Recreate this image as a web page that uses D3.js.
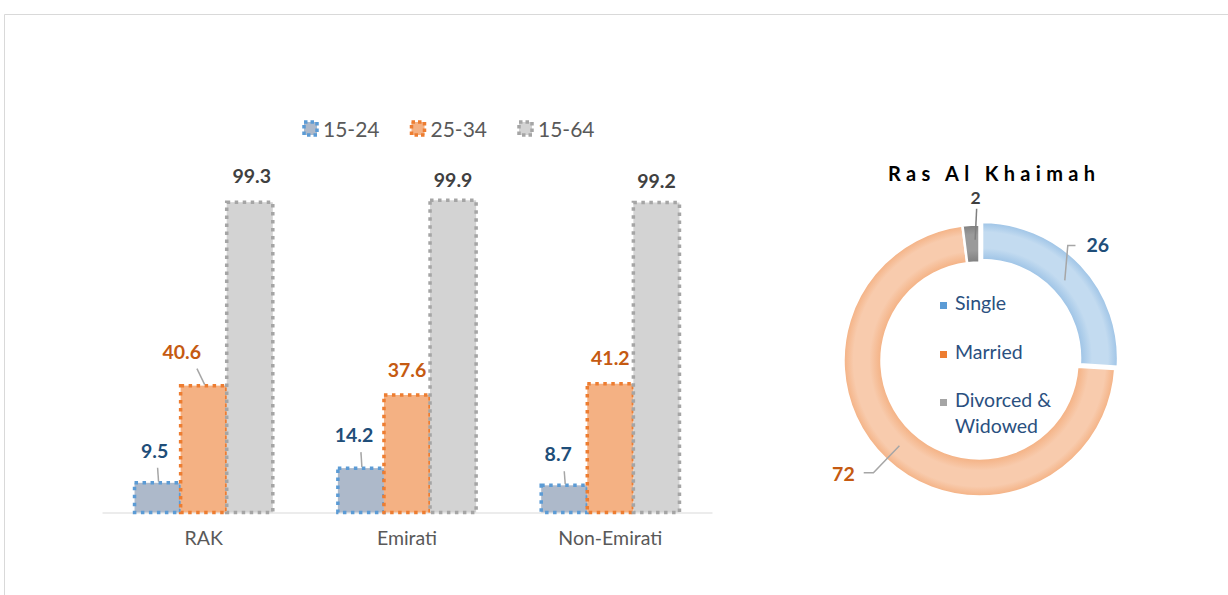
<!DOCTYPE html>
<html>
<head>
<meta charset="utf-8">
<script src="https://cdn.jsdelivr.net/npm/d3@7"></script>
<style>
  html, body { margin: 0; padding: 0; background: #fff; }
  svg { display: block; font-family: Lato, "Open Sans", sans-serif; }
</style>
</head>
<body>
<div id="chart"></div>
<script>
// data
const categories = ["RAK", "Emirati", "Non-Emirati"];
const ageGroups = ["15-24", "25-34", "15-64"];
const rate1524 = [9.5, 14.2, 8.7];
const rate2534 = [40.6, 37.6, 41.2];
const rate1564 = [99.3, 99.9, 99.2];

const donutTitle = "Ras Al Khaimah";
const maritalLabels = ["Single", "Married", "Divorced & Widowed"];
const maritalValues = [26, 72, 2];

const W = 1228, H = 595;
const svg = d3.select("#chart").append("svg")
    .attr("width", W)
    .attr("height", H);

// outer frame
svg.append("path")
    .attr("d", `M4.5,${H} V14.5 H${W}`)
    .attr("fill", "none")
    .attr("stroke", "#d9d9d9")
    .attr("stroke-width", 1);

// ---------- bar chart ----------
const seriesValues = [rate1524, rate2534, rate1564];
const barFill = ["#adb9ca", "#f4b183", "#d3d3d3"];
const barStroke = ["#5b9bd5", "#ed7d31", "#a5a5a5"];
const labelColor = ["#1f4e79", "#c55a11", "#404040"];

const x0 = d3.scaleBand().domain(categories).range([102, 712])
    .paddingInner(0.32).paddingOuter(0.16);
const x1 = d3.scaleBand().domain(ageGroups).range([0, x0.bandwidth()]);
const y = d3.scaleLinear().domain([0, 100]).range([512.5, 200]);

// label nudges [dx, dy from bar top, leader?] per series / category
const labelNudge = [
    [[-3, -25, true], [-7, -26, true], [-6, -24, true]],
    [[-22, -27, true], [0, -18, false], [0, -19, false]],
    [[2, -19, false], [0, -13, false], [0, -15, false]]
];

const axis = svg.append("g")
    .attr("transform", `translate(0,${y(0)})`)
    .call(d3.axisBottom(x0).tickSize(0).tickPadding(19));
axis.select(".domain").attr("stroke", "#d9d9d9").attr("stroke-width", 1.2);
axis.selectAll("text")
    .attr("font-family", "Lato")
    .attr("font-size", 19.5)
    .attr("fill", "#595959");

const barRows = [];
categories.forEach((c, ci) => {
    ageGroups.forEach((a, si) => {
        barRows.push({ cat: c, age: a, si: si, ci: ci, v: seriesValues[si][ci] });
    });
});

svg.append("g")
    .selectAll("rect")
    .data(barRows)
    .join("rect")
    .attr("x", d => x0(d.cat) + x1(d.age))
    .attr("y", d => y(d.v))
    .attr("width", x1.bandwidth())
    .attr("height", d => y(0) - y(d.v))
    .attr("fill", d => barFill[d.si])
    .attr("stroke", d => barStroke[d.si])
    .attr("stroke-width", 3.5)
    .attr("stroke-dasharray", "3.5 4.5");

const labels = svg.append("g");
barRows.forEach(d => {
    const nudge = labelNudge[d.si][d.ci];
    const cx = x0(d.cat) + x1(d.age) + x1.bandwidth() / 2;
    const top = y(d.v);
    const lx = cx + nudge[0];
    const ly = top + nudge[1];
    const txt = labels.append("text")
        .attr("x", lx)
        .attr("y", ly)
        .attr("text-anchor", "middle")
        .attr("font-weight", "bold")
        .attr("font-size", 19.5)
        .attr("fill", labelColor[d.si])
        .text(d3.format(".1f")(d.v));
    if (nudge[2]) {
        const w = txt.node().getComputedTextLength();
        const sx = Math.max(lx - w / 2 + 4, Math.min(lx + w / 2 - 4, cx));
        labels.append("line")
            .attr("x1", sx).attr("y1", ly + 10)
            .attr("x2", cx + 1).attr("y2", top - 1)
            .attr("stroke", "#a6a6a6")
            .attr("stroke-width", 1.5);
    }
});

// legend
const legend = svg.append("g").attr("transform", "translate(304,129)");
const legItem = legend.selectAll("g")
    .data(ageGroups)
    .join("g")
    .attr("transform", (d, i) => `translate(${i * 107.5},0)`);
legItem.append("rect")
    .attr("x", 0).attr("y", -7)
    .attr("width", 13).attr("height", 13)
    .attr("fill", (d, i) => barFill[i])
    .attr("stroke", (d, i) => barStroke[i])
    .attr("stroke-width", 3.5)
    .attr("stroke-dasharray", "3.5 3");
legItem.append("text")
    .attr("x", 19)
    .attr("y", 7.5)
    .attr("font-size", 21)
    .attr("fill", "#595959")
    .text(d => d);

// ---------- donut ----------
const cx = 979.5, cy = 360.5;
const rIn = 98, rOut = 136;
const defs = svg.append("defs");
const gradStops = [
    ["#9dc3e6", "#c3dbf0"],
    ["#f4b183", "#f8cbad"],
    ["#7f7f7f", "#9a9a9a"]
];
gradStops.forEach((s, i) => {
    const g = defs.append("radialGradient")
        .attr("id", "dg" + i)
        .attr("gradientUnits", "userSpaceOnUse")
        .attr("cx", 0).attr("cy", 0).attr("r", rOut);
    g.append("stop").attr("offset", rIn / rOut).attr("stop-color", s[0]);
    g.append("stop").attr("offset", (rIn + 12) / rOut).attr("stop-color", s[1]);
    g.append("stop").attr("offset", (rOut - 10) / rOut).attr("stop-color", s[1]);
    g.append("stop").attr("offset", 1).attr("stop-color", s[0]);
});

const pie = d3.pie().sort(null).value(d => d);
const arc = d3.arc().innerRadius(rIn).outerRadius(rOut);
const midArc = d3.arc().innerRadius((rIn + rOut) / 2).outerRadius((rIn + rOut) / 2);
const slices = pie(maritalValues);
const explode = [3.5, 0, 0];

const donut = svg.append("g").attr("transform", `translate(${cx},${cy})`);
donut.selectAll("path")
    .data(slices)
    .join("path")
    .attr("d", arc)
    .attr("transform", (d, i) => {
        const a = (d.startAngle + d.endAngle) / 2;
        return `translate(${Math.sin(a) * explode[i]},${-Math.cos(a) * explode[i]})`;
    })
    .attr("fill", (d, i) => `url(#dg${i})`)
    .attr("stroke", "#fff")
    .attr("stroke-width", 2.5);

// donut data labels
const donutLabelColor = ["#1f4e79", "#c55a11", "#404040"];
const donutNudge = [[33, -28], [-56, 35], [3.5, -40]];
const donutFont = [19.5, 19.5, 17.5];
slices.forEach((d, i) => {
    const [ax, ay] = midArc.centroid(d);
    const lx = ax + donutNudge[i][0];
    const ly = ay + donutNudge[i][1];
    const t = donut.append("text")
        .attr("x", lx).attr("y", ly)
        .attr("text-anchor", "middle")
        .attr("font-weight", "bold")
        .attr("font-size", donutFont[i])
        .attr("fill", donutLabelColor[i])
        .text(d3.format("d")(d.data));
    const hw = t.node().getComputedTextLength() / 2;
    let pts;
    if (i === 0) {
        pts = [[ax, ay], [ax + 3, ly - 7], [lx - hw - 11, ly - 7]];
    } else if (i === 1) {
        pts = [[ax, ay], [ax - 26, ly - 8], [lx + hw + 9, ly - 8]];
    } else {
        pts = [[lx + 1, ly + 5], [ax + 3, ay - 4]];
    }
    donut.append("path")
        .attr("d", d3.line()(pts))
        .attr("fill", "none")
        .attr("stroke", i === 2 ? "#7f7f7f" : "#a6a6a6")
        .attr("stroke-width", 1.5);
});

// donut title
svg.append("text")
    .attr("x", 888).attr("y", 181)
    .attr("textLength", 207)
    .attr("lengthAdjust", "spacing")
    .attr("font-weight", "bold")
    .attr("font-size", 20)
    .attr("fill", "#000")
    .text(donutTitle);

// donut legend (inside the hole)
const legRows = [
    { i: 0, lines: [maritalLabels[0]], y: 310 },
    { i: 1, lines: [maritalLabels[1]], y: 359 },
    { i: 2, lines: ["Divorced &", "Widowed"], y: 407 }
];
const legSwatch = ["#5b9bd5", "#ed7d31", "#a5a5a5"];
const dLeg = svg.append("g");
legRows.forEach(r => {
    dLeg.append("rect")
        .attr("x", 940).attr("y", r.y - 8)
        .attr("width", 7).attr("height", 7)
        .attr("fill", legSwatch[r.i]);
    const t = dLeg.append("text")
        .attr("x", 955).attr("y", r.y)
        .attr("font-size", 19.5)
        .attr("fill", "#2a5080");
    r.lines.forEach((l, k) => {
        t.append("tspan").attr("x", 955).attr("dy", k === 0 ? 0 : 25.5).text(l);
    });
});
</script>
</body>
</html>
